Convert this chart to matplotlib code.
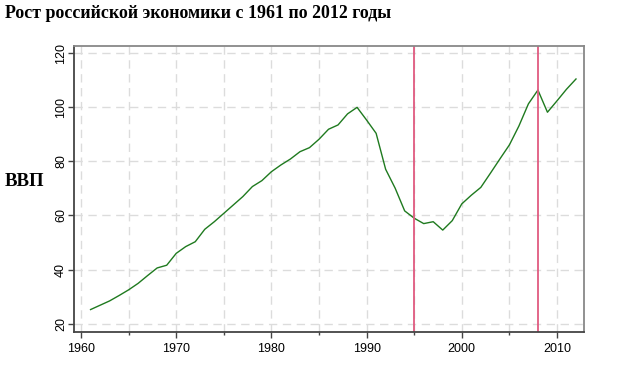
import matplotlib.pyplot as plt
from matplotlib.ticker import MultipleLocator

years = list(range(1961, 2013))
gdp = [25.2, 26.8, 28.4, 30.4, 32.5, 34.9, 37.8, 40.6, 41.6, 46.0,
       48.5, 50.3, 54.9, 57.7, 60.8, 63.9, 67.0, 70.7, 72.9, 76.2,
       78.7, 80.9, 83.6, 85.1, 88.2, 91.9, 93.5, 97.6, 100.0, 95.3,
       90.4, 77.1, 70.1, 61.7, 59.0, 57.0, 57.7, 54.6, 58.1, 64.3,
       67.5, 70.4, 75.6, 80.9, 86.1, 93.1, 101.3, 106.4, 98.2, 102.4,
       106.7, 110.5]
crisis_years = [1995, 2008]

fig = plt.figure(figsize=(6.32, 3.66), dpi=100)
ax = fig.add_axes([74 / 632, 1 - 332 / 366, 510 / 632, 286 / 366])

ax.plot(years, gdp, color='#1f7a1f', linewidth=1.0)
for yr in crisis_years:
    ax.axvline(yr, color='#e05a80', linewidth=1.3)

ax.set_xlim(1959.26, 2012.84)
ax.set_ylim(16.9, 122.7)
ax.xaxis.set_major_locator(MultipleLocator(10))
ax.xaxis.set_minor_locator(MultipleLocator(5))
ax.yaxis.set_major_locator(MultipleLocator(20))

ax.grid(True, which='both', axis='x', color='#dcdcdc', linestyle=(0, (6, 4)), linewidth=1)
ax.grid(True, which='major', axis='y', color='#dcdcdc', linestyle=(0, (6, 4)), linewidth=1)
ax.set_axisbelow(True)

for s in ['left', 'bottom']:
    ax.spines[s].set_color('#444444')
    ax.spines[s].set_linewidth(1.3)
for s in ['top', 'right']:
    ax.spines[s].set_color('#888888')
    ax.spines[s].set_linewidth(1.3)

ax.tick_params(axis='x', which='major', length=4, width=1, color='#444444',
               labelsize=9, pad=4)
ax.tick_params(axis='y', which='major', length=4, width=1, color='#444444',
               labelsize=9, pad=1)
ax.tick_params(axis='x', which='minor', length=2, width=1, color='#444444')
for lab in ax.get_xticklabels() + ax.get_yticklabels():
    lab.set_family('Liberation Sans')
for lab in ax.get_yticklabels():
    lab.set_rotation(90)
    lab.set_va('center')

fig.text(5 / 632, 1 - 13 / 366, 'Рост российской экономики с 1961 по 2012 годы',
         family='Liberation Serif', fontweight='bold', fontsize=12.9,
         ha='left', va='center')
fig.text(5 / 632, 1 - 181 / 366, 'ВВП', family='Liberation Serif',
         fontweight='bold', fontsize=13.5, ha='left', va='center')

fig.savefig('out.png', dpi=100)
plt.close(fig)
